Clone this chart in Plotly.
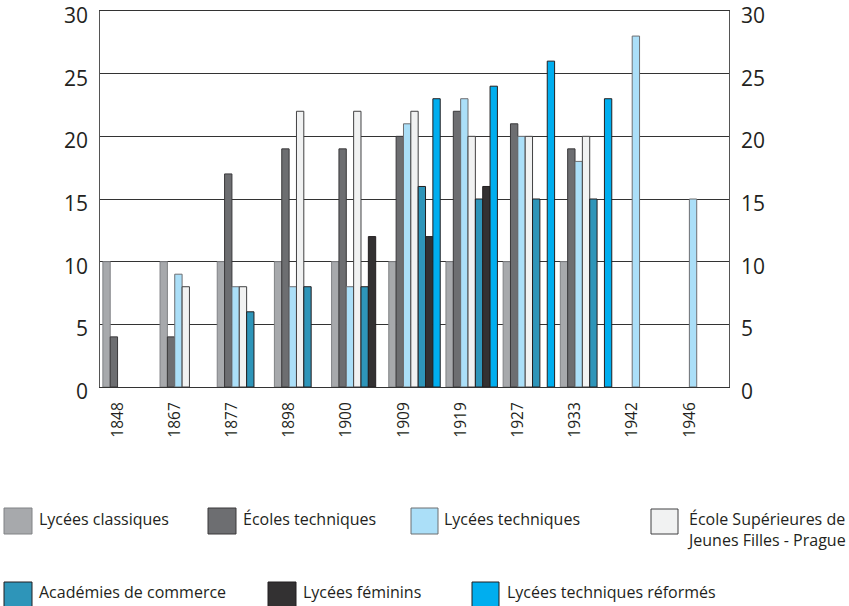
import plotly.graph_objects as go

# ---------------- data ----------------
years = ["1848", "1867", "1877", "1898", "1900", "1909", "1919", "1927", "1933", "1942", "1946"]

series_names = [
    "Lycées classiques",
    "Écoles techniques",
    "Lycées techniques",
    "École Supérieures de Jeunes Filles - Prague",
    "Académies de commerce",
    "Lycées féminins",
    "Lycées techniques réformés",
]

lycees_classiques = [10, 10, 10, 10, 10, 10, 10, 10, 10, None, None]
ecoles_techniques = [4, 4, 17, 19, 19, 20, 22, 21, 19, None, None]
lycees_techniques = [None, 9, 8, 8, 8, 21, 23, 20, 18, 28, 15]
ecole_superieures = [None, 8, 8, 22, 22, 22, 20, 20, 20, None, None]
academies_commerce = [None, None, 6, 8, 8, 16, 15, 15, 15, None, None]
lycees_feminins = [None, None, None, None, 12, 12, 16, None, None, None, None]
lycees_tech_reformes = [None, None, None, None, None, 23, 24, 26, 23, None, None]

series_values = [
    lycees_classiques,
    ecoles_techniques,
    lycees_techniques,
    ecole_superieures,
    academies_commerce,
    lycees_feminins,
    lycees_tech_reformes,
]

y_ticks = [0, 5, 10, 15, 20, 25, 30]

# ---------------- styles ----------------
fills = ["#a7a9ac", "#6d6e71", "#abdff8", "#f1f2f2", "#2e95b9", "#333132", "#00aeef"]
outlines = ["#808285", "#3a393b", "#6d6e71", "#414042", "#231f20", "#231f20", "#231f20"]

FONT = "Open Sans"
TXT = "#231f20"
W, H = 849, 606
ML, MR, MT, MB = 100, 120, 11, 219
PW = W - ML - MR
PH = H - MT - MB

x_pos = list(range(len(years)))

fig = go.Figure()
for name, vals, fc, lc in zip(series_names, series_values, fills, outlines):
    fig.add_trace(go.Bar(
        x=x_pos, y=vals, name=name,
        marker=dict(color=fc, line=dict(color=lc, width=1)),
        showlegend=False,
    ))

YR = [0, 30]

fig.update_layout(
    width=W, height=H,
    margin=dict(l=ML, r=MR, t=MT, b=MB, autoexpand=False),
    paper_bgcolor="white", plot_bgcolor="white",
    barmode="group", bargap=0.1, bargroupgap=0,
    font=dict(family=FONT, color=TXT),
    hovermode=False,
    xaxis=dict(
        range=[-0.5, len(years) - 0.5],
        tickmode="array",
        tickvals=[i - 0.19 for i in x_pos],
        ticktext=years,
        tickangle=-90,
        tickfont=dict(size=15.5, family=FONT, color=TXT),
        ticks="", ticklabelstandoff=8,
        showgrid=False, zeroline=False,
        showline=True, linecolor="#333333", linewidth=1, mirror=True,
        fixedrange=True,
    ),
    yaxis=dict(
        range=YR, tickmode="array", tickvals=y_ticks,
        showticklabels=False, ticks="",
        showgrid=True, gridcolor="#333333", gridwidth=1,
        zeroline=False,
        showline=True, linecolor="#555555", linewidth=1, mirror=True,
        fixedrange=True,
    ),
)

# y tick labels on both sides (sit a few pixels below their gridline, as in the reference)
for v in y_ticks:
    for side_x, anchor, xshift in ((0, "right", -10), (1, "left", 10)):
        fig.add_annotation(xref="paper", yref="y", x=side_x, y=v,
                           xanchor=anchor, yanchor="middle", xshift=xshift, yshift=-4,
                           text=str(v), showarrow=False,
                           font=dict(size=21, family=FONT, color=TXT))

# ---------------- custom legend ----------------
def px_x(px):
    return (px - ML) / PW

def px_y(py):
    return (H - MB - py) / PH

legend_layout = [
    # (box x0, box x1, box y0, box y1, text x, text center y)
    (4, 32, 508, 534, 37, 519),
    (208, 236, 508, 534, 241, 519),
    (411, 438, 508, 534, 442, 519),
    (651, 678, 509, 534, 685, 529),
    (4, 32, 582, 607, 37, 592),
    (268, 296, 582, 607, 301, 592),
    (472, 499, 582, 607, 505, 592),
]
legend_labels = [
    "Lycées classiques",
    "Écoles techniques",
    "Lycées techniques",
    "École Supérieures de<br>Jeunes Filles - Prague",
    "Académies de commerce",
    "Lycées féminins",
    "Lycées techniques réformés",
]

for (bx0, bx1, by0, by1, tx, ty), label, fc, lc in zip(legend_layout, legend_labels, fills, outlines):
    fig.add_shape(type="rect", xref="paper", yref="paper",
                  x0=px_x(bx0), x1=px_x(bx1), y0=px_y(by1), y1=px_y(by0),
                  fillcolor=fc, line=dict(color=lc, width=1))
    fig.add_annotation(xref="paper", yref="paper", x=px_x(tx), y=px_y(ty),
                       xanchor="left", yanchor="middle", align="left",
                       text=label, showarrow=False,
                       font=dict(size=16, family=FONT, color=TXT))

fig.write_html(
    "out.html",
    config={"displayModeBar": False, "staticPlot": True},
    post_script="document.body.style.margin='0';document.body.style.overflow='hidden';",
)
